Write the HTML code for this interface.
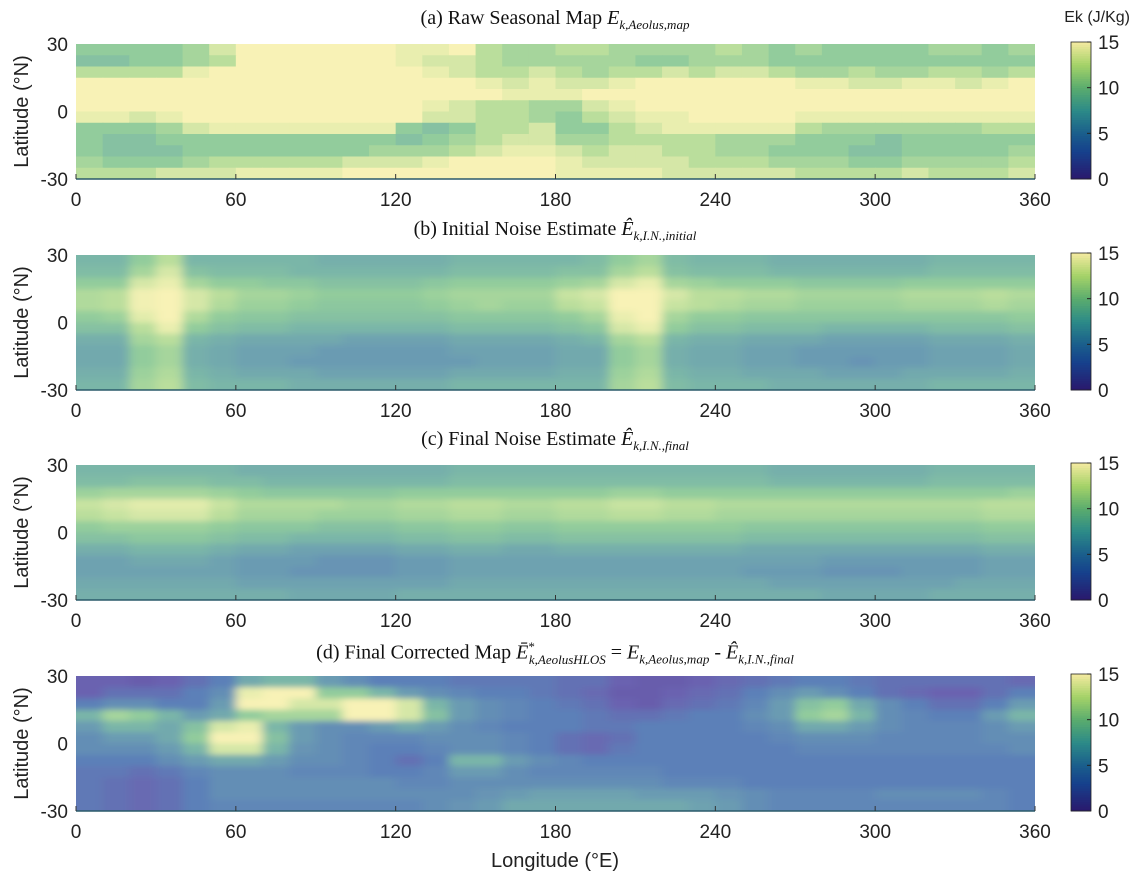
<!DOCTYPE html>
<html><head><meta charset="utf-8">
<style>
body{margin:0;background:#fff;width:1132px;height:887px;overflow:hidden;position:relative;font-family:"Liberation Sans",sans-serif}
.title{position:absolute;font-family:"Liberation Serif",serif;font-size:20px;color:#111;white-space:nowrap;transform:translateX(-50%)}
.title i{font-style:italic}
.title sub,.title sup{font-size:13px}
</style></head><body>
<svg id="chart" width="1132" height="887" style="position:absolute;left:0;top:0" font-family="Liberation Sans, sans-serif"></svg>
<div class="title" style="left:555px;top:7px">(a) Raw Seasonal Map <i>E</i><sub><i>k,Aeolus,map</i></sub></div>
<div class="title" style="left:555px;top:218px">(b) Initial Noise Estimate <i>Ê</i><sub><i>k,I.N.,initial</i></sub></div>
<div class="title" style="left:555px;top:428px">(c) Final Noise Estimate <i>Ê</i><sub><i>k,I.N.,final</i></sub></div>
<div class="title" style="left:555px;top:639px">(d) Final Corrected Map <i>Ē</i><sup>*</sup><sub style="margin-left:-6px"><i>k,AeolusHLOS</i></sub> = <i>E</i><sub><i>k,Aeolus,map</i></sub> - <i>Ê</i><sub><i>k,I.N.,final</i></sub></div>
<script>
const lonTicks=[0,60,120,180,240,300,360];
const latTicks=[30,0,-30];
const cbTicks=[0,5,10,15];
const panelA=[
[10,10,10,10,11,13,15,15,15,15,15,15,14,14,15,12,11,11,12,12,11,11,11,11,12,11,10,11,10,10,10,10,11,11,10,11],
[9,9,10,10,11,12,15,15,15,15,15,15,14,13,13,12,11,11,11,11,11,10,10,11,11,11,10,10,10,10,10,10,10,10,10,10],
[12,12,12,12,14,15,15,15,15,15,15,15,15,14,13,12,12,13,12,11,12,12,13,12,13,13,12,11,11,12,11,11,12,12,11,12],
[15,15,15,15,15,15,15,15,15,15,15,15,15,15,15,14,13,14,13,13,14,15,15,15,15,15,15,14,14,13,13,14,14,13,14,15],
[15,15,15,15,15,15,15,15,15,15,15,15,15,15,15,15,14,14,14,15,15,15,15,15,15,15,15,15,15,15,15,15,15,15,15,15],
[15,15,15,15,15,15,15,15,15,15,15,15,15,14,13,12,12,11,11,13,14,15,15,15,15,15,15,15,15,15,15,15,15,15,15,15],
[14,14,13,14,15,15,15,15,15,15,15,15,15,13,13,12,12,11,10,12,13,14,14,15,15,15,15,14,14,14,14,14,14,14,14,14],
[10,10,10,11,13,14,14,14,14,14,14,14,10,9,10,12,12,13,10,10,12,13,14,14,14,14,14,12,11,11,11,11,11,11,12,12],
[10,9,9,10,10,10,10,10,10,10,10,10,9,10,11,12,13,13,11,11,12,12,12,12,11,11,11,10,10,10,9,10,10,10,10,10],
[10,9,9,9,10,10,10,10,10,10,10,11,11,11,12,13,14,14,13,12,13,13,12,12,11,11,10,10,10,9,9,10,10,10,10,11],
[11,10,10,10,11,12,12,12,12,12,13,13,13,14,15,15,15,15,14,13,13,13,13,12,12,12,11,11,11,10,10,11,11,11,11,12],
[12,12,12,13,13,13,14,14,14,14,15,15,15,15,15,15,15,15,14,14,14,14,13,13,13,13,13,12,12,12,12,13,12,12,12,13]];
const panelB=[
[8,8,10,12,8,8,8,8,8,7.5,7.5,7.5,7.5,7.5,8,8,8,8,8,8.5,10,11,8.5,8,8,8,7.5,7.5,7.5,7.5,7.5,7.5,8,8,8,8],
[8.5,8.5,11,13,9,8.5,8.5,8.5,8,8,8,8,8,8,8.5,8.5,8.5,8.5,9,9,11,12,9,8.5,8.5,8.5,8,8,8,8,8,8,8.5,8.5,8.5,8.5],
[10,10,13,14,11,10,10,9.5,9.5,9,9,9,9,9.5,10,10,10,10,10.5,11,13,14,11,10.5,10,10,10,9.5,9.5,9.5,9.5,10,10,10,10,10],
[11.5,12,14.5,15,13,12,11,11,10.5,10,10,10,10,10.5,11,11,11,11,12.5,13,15,15,13,12,12,11.5,11.5,11,11,11,11,11.5,11.5,11.5,12,11.5],
[11.5,12,14.5,15,13,11.5,10.5,10.5,10,9.5,9.5,9.5,9.5,10,10.5,11,10.5,10.5,12,12.5,15,15,12.5,12,11.5,11,11,10.5,10.5,10.5,10.5,11,11,11,11.5,11],
[10,10.5,13.5,15,11.5,10,9.5,9.5,9,9,9,9,9,9,9.5,9.5,9.5,9.5,10,11,14,15,11,10,10,9.5,9.5,9.5,9.5,9.5,9.5,9.5,9.5,9.5,9.5,10],
[9,9,12,14,10,9,8.5,8.5,8,8,8,8,8,8,8.5,8.5,8.5,8.5,9,9.5,13,14,10,9,9,8.5,8.5,8.5,8,8,8,8,8.5,8.5,8.5,9],
[7.5,7.5,11,12,8,7.5,7,7,7,7,6.5,6.5,6.5,6.5,7,7,7,7,7.5,8,11,12,8,7.5,7.5,7,7,7,6.5,6.5,6.5,6.5,7,7,7,7.5],
[7,7,10,11,7.5,7,6.5,6.5,6.5,6,6,6,6,6,6.5,6.5,6.5,6.5,7,7,10,11,7.5,7,7,6.5,6.5,6,6,6,6,6,6.5,6.5,6.5,7],
[7,7,10,11,7.5,7,6.5,6.5,6,6,6,6,6,6,6,6.5,6.5,6.5,7,7,10,11,7.5,7,7,6.5,6.5,6,6,5.5,6,6,6.5,6.5,6.5,7],
[7.5,7.5,10.5,11.5,8,7.5,7,7,7,6.5,6.5,6.5,6.5,6.5,7,7,7,7,7.5,7.5,10.5,11.5,8,7.5,7.5,7,7,7,6.5,6.5,6.5,7,7,7,7,7.5],
[8,8,11,12,8.5,8,8,8,7.5,7.5,7.5,7.5,7.5,7.5,8,8,8,8,8,8,11,12,8.5,8,8,8,7.5,7.5,7.5,7.5,7.5,7.5,8,8,8,8]];
const panelC=[
[8,8,8,8,8,8,7.5,7.5,7.5,7.5,7.5,7.5,7.5,7.5,8,8,8,8,8,8,8,8,8,8,8,8,7.5,7.5,7.5,7.5,7.5,7.5,8,8,8,8],
[8.5,8.5,9,9,9,8.5,8.5,8,8,8,8,8,8,8,8.5,8.5,8.5,8.5,8.5,8.5,8.5,8.5,8.5,8.5,8.5,8.5,8,8,8,8,8,8,8.5,8.5,8.5,8.5],
[10.5,11,11,11,11,10.5,10,9.5,9.5,9.5,9.5,9.5,10,10,10,10,10,10,10,10,10.5,10.5,10,10,10,10,10,10,10,10,10,10,10,10,10,10.5],
[12.5,13,13.5,13.5,13.5,12.5,11.5,11.5,11.5,11.5,11,11,11.5,11.5,12,12,11.5,11.5,12,12,12.5,12.5,12,12,11.5,11.5,11.5,11.5,11.5,11.5,11.5,11.5,11.5,11.5,12,12],
[12,12.5,13,13,13,12,11,11,11,10.5,10.5,10.5,11,11,11.5,11.5,11,11,11.5,11.5,12,12,11.5,11.5,11,11,11,11,11,11,11,11,11,11,11.5,11.5],
[10,10.5,10.5,10.5,10.5,10,9.5,9.5,9.5,9,9,9,9.5,9.5,10,10,9.5,9.5,10,10,10,10,10,10,10,9.5,9.5,9.5,9.5,9.5,9.5,9.5,9.5,9.5,10,10],
[9,9,9.5,9.5,9.5,9,8.5,8.5,8,8,8,8,8.5,8.5,9,9,8.5,8.5,9,9,9,9,9,9,9,8.5,8.5,8.5,8.5,8.5,8.5,8.5,8.5,8.5,9,9],
[7.5,7.5,8,8,8,7.5,7,7,6.5,6.5,6.5,6.5,7,7,7.5,7.5,7,7,7.5,7.5,7.5,7.5,7.5,7.5,7.5,7,7,7,7,7,7,7,7,7,7.5,7.5],
[6.5,6.5,7,7,7,6.5,6,6,6,5.5,5.5,5.5,6,6,6.5,6.5,6.5,6.5,6.5,6.5,6.5,6.5,6.5,6.5,6.5,6.5,6.5,6.5,6,6,6,6,6,6,6.5,6.5],
[6.5,6.5,6.5,6.5,6.5,6.5,6,6,5.5,5.5,5.5,5.5,6,6,6.5,6.5,6.5,6.5,6.5,6.5,6.5,6.5,6.5,6.5,6.5,6,6,6,5.5,5.5,5.5,6,6,6,6.5,6.5],
[7,7,7,7,7,7,6.5,6.5,6.5,6.5,6.5,6.5,6.5,6.5,7,7,7,7,7,7,7,7,7,7,7,7,6.5,6.5,6.5,6.5,6.5,6.5,6.5,7,7,7],
[7.5,7.5,7.5,7.5,7.5,7.5,7.5,7.5,7,7,7,7,7.5,7.5,7.5,7.5,7.5,7.5,7.5,7.5,7.5,7.5,7.5,7.5,7.5,7.5,7.5,7.5,7,7,7,7,7.5,7.5,7.5,7.5]];
const panelD=[
[2,2,1.5,2,3,4,7,8,8,6,5,4,4,4,3.5,3.5,3.5,3.5,3,3,2,1.5,1.5,2,2.5,3,3.5,4,4,3.5,3,3,3,3,3,2.5],
[2,3,3,3,4,5,14,15,15,10,10,8,6,5,4.5,4,4,3.5,3,2.5,1.5,1.5,2,2.5,3,4,5,6,5,4,3,2.5,2,2,3,4],
[4,5,5,4,4,6,15,15,13,13,15,15,13,8,6,5,4.5,4,3.5,3,2,1.5,2.5,3,3.5,4.5,6,9,10,7,5,4,3,3,4,6],
[8,11,10,8,6,7,10,11,11,11,15,15,13,9,6,5,4.5,4,4,3.5,3,3,3.5,4,4,5,6,10,11,8,5,4.5,4,4,6,8],
[6,8,8,7,9,13,14,8,6,5,5,6,7,6,5,4.5,4,4,4,3.5,3.5,4,4,4,4,4.5,5,7,7,6,5,4.5,4.5,4.5,5,6],
[5,6,6,7,10,15,15,9,6,5,4.5,4.5,4.5,5,5,5,4.5,4,3,2.5,3,4,4,4,4,4,4.5,5,5,5,4.5,4.5,4.5,4.5,5,5],
[5,5,5,6,8,13,13,8,5.5,5,4.5,4,4,4.5,5,5,4.5,4,3,2.5,3.5,4,4,4,4,4,4,4.5,4.5,4.5,4.5,4.5,4.5,4.5,4.5,5],
[4,4,4,5,6,7,7,6,5,5,4.5,4,3,4,8,8,6,5,4.5,4,4,4,4,4,4,4,4,4,4,4,4,4,4,4,4,4],
[3.5,3.5,3,3.5,4.5,5,5,5,4.5,4.5,4.5,4,4,4.5,6,6,5,4.5,4.5,4.5,4.5,4.5,4,4,4,4,4,4,4,4,4,4,4,4,4,4],
[3.5,3,2.5,3,4,5,5,5,5,5,5,5,4.5,4.5,5,5,5,5,5,5,5,5,4.5,4.5,4.5,4,4,4,4,4,4,4,4,4,4,4],
[3.5,3,2.5,3,4,5,5,5,5,5,5,5,5,5,5,5.5,6,6.5,6.5,6.5,6.5,6,6,6,5.5,5,4.5,4.5,4.5,4.5,5,5,5,5,4.5,4],
[3.5,3,2.5,3,4,4.5,4.5,4.5,4.5,4.5,4.5,4.5,4.5,5,5.5,6,7,7,7,7,7,7,7,6.5,6,5,4.5,4.5,4.5,4.5,4.5,4.5,4.5,4.5,4.5,4]];

const NS='http://www.w3.org/2000/svg';
const svg=document.getElementById('chart');
function mk(t,a,p){const e=document.createElementNS(NS,t);for(const k in a)e.setAttribute(k,a[k]);(p||svg).appendChild(e);return e;}
const mapStops=[[0,[92,78,160]],[2,[106,98,176]],[4,[92,128,184]],[6,[106,155,178]],[8,[122,182,168]],[10,[146,204,156]],[12,[186,222,156]],[13.5,[226,236,172]],[15,[248,242,182]]];
const cbStops=[[0,[42,24,108]],[3,[22,64,140]],[5,[26,94,140]],[7.5,[44,138,136]],[10,[90,172,110]],[12.5,[164,210,104]],[15,[244,234,160]]];
function cmap(v,st){v=Math.max(0,Math.min(15,v));for(let i=1;i<st.length;i++){if(v<=st[i][0]){const a=st[i-1],b=st[i],t=(v-a[0])/(b[0]-a[0]);return 'rgb('+a[1].map((c,j)=>Math.round(c+(b[1][j]-c)*t)).join(',')+')';}}return 'rgb('+st[st.length-1][1].join(',')+')';}
const X0=76,X1=1035,PH=135;
const tops=[44,255,465,676];
const panels=[panelA,panelB,panelC,panelD];
const ids=['a','b','c','d'];
const defs=mk('defs',{});
const flt=mk('filter',{id:'blur',x:'-5%',y:'-20%',width:'110%',height:'140%'},defs);
mk('feGaussianBlur',{stdDeviation:'5 3'},flt);
function xS(lon){return X0+(lon/360)*(X1-X0);}
panels.forEach((data,pi)=>{
  const top=tops[pi];
  function yS(lat){return top+(30-lat)/60*PH;}
  const cp=mk('clipPath',{id:'clip'+pi},defs);
  mk('rect',{x:X0,y:top,width:X1-X0,height:PH},cp);
  const outer=mk('g',{'clip-path':'url(#clip'+pi+')'});
  const g=mk('g',pi>0?{filter:'url(#blur)'}:{},outer);
  
  
  const nr=data.length,nc=data[0].length;
  const pad=pi>0?15:0;
  data.forEach((row,r)=>{row.forEach((v,c)=>{
    const lon0=c*360/nc,lon1=(c+1)*360/nc,lat0=30-r*60/nr,lat1=30-(r+1)*60/nr;
    let x=xS(lon0),y=yS(lat0),w=xS(lon1)-xS(lon0)+0.6,h=yS(lat1)-yS(lat0)+0.6;
    if(c===0){x-=pad;w+=pad;} if(c===nc-1){w+=pad;}
    if(r===0){y-=pad;h+=pad;} if(r===nr-1){h+=pad;}
    const rc=mk('rect',{x:x,y:y,width:w,height:h,fill:cmap(v,mapStops)},g);
    
    
  });});
  mk('line',{x1:X0,y1:top+PH,x2:X1,y2:top+PH,stroke:'#2a5a6a','stroke-width':1.5});
  lonTicks.forEach(t=>{
    mk('line',{x1:xS(t),y1:top+PH,x2:xS(t),y2:top+PH-5,stroke:'#333'});
    const tx=mk('text',{x:xS(t),y:top+PH+27,'font-size':19,'text-anchor':'middle',fill:'#222'});
    tx.textContent=t;
    
    
  });
  latTicks.forEach(t=>{
    const tx=mk('text',{x:X0-8,y:yS(t)+7,'font-size':19,'text-anchor':'end',fill:'#222'});
    tx.textContent=t;
    
    
  });
  const yl=mk('text',{x:28,y:top+PH/2,'font-size':20,'text-anchor':'middle',fill:'#222',transform:'rotate(-90 28 '+(top+PH/2)+')'});
  yl.textContent='Latitude (°N)';
  
  
  const cb=mk('g',{});
  
  
  const cbT=top-2,cbH=PH+2;
  for(let i=0;i<60;i++){const v=i*15/60;mk('rect',{x:1071,y:cbT+cbH-(i+1)*cbH/60,width:20,height:cbH/60+0.5,fill:cmap(v+0.125,cbStops)},cb);}
  mk('rect',{x:1071,y:cbT,width:20,height:cbH,fill:'none',stroke:'#222','stroke-width':0.8},cb);
  cbTicks.forEach(t=>{
    const y=cbT+cbH-(t/15)*cbH;
    mk('line',{x1:1087,y1:y,x2:1091,y2:y,stroke:'#222'},cb);
    const tx=mk('text',{x:1098,y:y+7,'font-size':19,fill:'#222'},cb);
    tx.textContent=t;
    
    
  });
});
const ek=mk('text',{x:1130,y:22,'font-size':16,'text-anchor':'end',fill:'#222'});
ek.textContent='Ek (J/Kg)';


const xl=mk('text',{x:555,y:867,'font-size':20,'text-anchor':'middle',fill:'#222'});
xl.textContent='Longitude (°E)';


</script>
</body></html>
